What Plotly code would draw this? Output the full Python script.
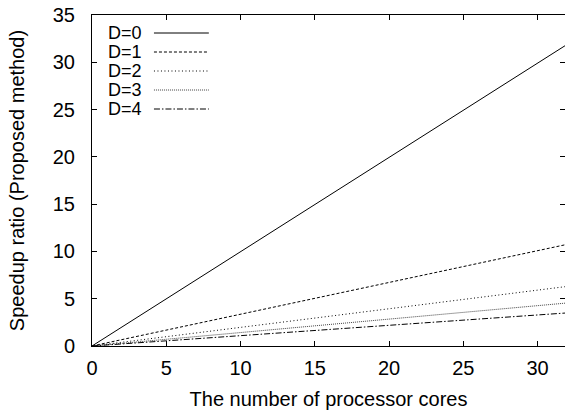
import plotly.graph_objects as go

cores = [0, 8, 16, 24, 32]
names = ["D=0", "D=1", "D=2", "D=3", "D=4"]
speedup_d0 = [0, 7.98, 15.95, 23.93, 31.9]
speedup_d1 = [0, 2.69, 5.38, 8.06, 10.75]
speedup_d2 = [0, 1.58, 3.15, 4.73, 6.3]
speedup_d3 = [0, 1.14, 2.28, 3.41, 4.55]
speedup_d4 = [0, 0.88, 1.75, 2.63, 3.5]
series = [speedup_d0, speedup_d1, speedup_d2, speedup_d3, speedup_d4]
dashes = ["solid", "3px,2px", "1px,2.5px", "1px,1px", "6px,2px,1.5px,2px"]
colors = ["black", "black", "black", "#444", "black"]

FONT = "Liberation Sans, Arial, sans-serif"
FS = 20
fig = go.Figure()
for name, ys, dash, col in zip(names, series, dashes, colors):
    fig.add_trace(go.Scatter(x=cores, y=ys, mode="lines", name=name,
                             line=dict(color=col, width=1, dash=dash),
                             showlegend=False))

# gnuplot-style key: text then line sample (rows 19 px apart)
row_y = [0.9456, 0.8882, 0.8308, 0.7734, 0.7160]
for name, yy, dash, col in zip(names, row_y, dashes, colors):
    fig.add_annotation(x=0.1078, y=yy, xref="paper", yref="paper", text=name,
                       showarrow=False, xanchor="right", yanchor="middle",
                       borderpad=0,
                       font=dict(family=FONT, size=18, color="black"))
    fig.add_shape(type="line", xref="paper", yref="paper", x0=0.131, x1=0.247,
                  y0=yy, y1=yy, line=dict(color=col, width=1, dash=dash))

axis_common = dict(showline=True, linecolor="black", linewidth=1, ticks="inside",
                   ticklen=5, tickcolor="black", showgrid=False, zeroline=False,
                   tickfont=dict(family=FONT, size=FS, color="black"))
fig.update_xaxes(range=[0, 31.85], tickvals=[0, 5, 10, 15, 20, 25, 30], mirror="ticks",
                 ticklabelstandoff=4,
                 title=dict(text="The number of processor cores",
                            font=dict(family=FONT, size=FS, color="black"), standoff=13),
                 **axis_common)
fig.update_yaxes(range=[0, 35], tickvals=[0, 5, 10, 15, 20, 25, 30, 35], mirror="ticks",
                 ticklabelstandoff=12,
                 title=dict(text="Speedup ratio (Proposed method)",
                            font=dict(family=FONT, size=FS, color="black"), standoff=22),
                 **axis_common)
fig.update_layout(width=565, height=412, margin=dict(l=92, r=0, t=15, b=66),
                  plot_bgcolor="white", paper_bgcolor="white",
                  font=dict(family=FONT, color="black"))
fig.write_html("out.html")
